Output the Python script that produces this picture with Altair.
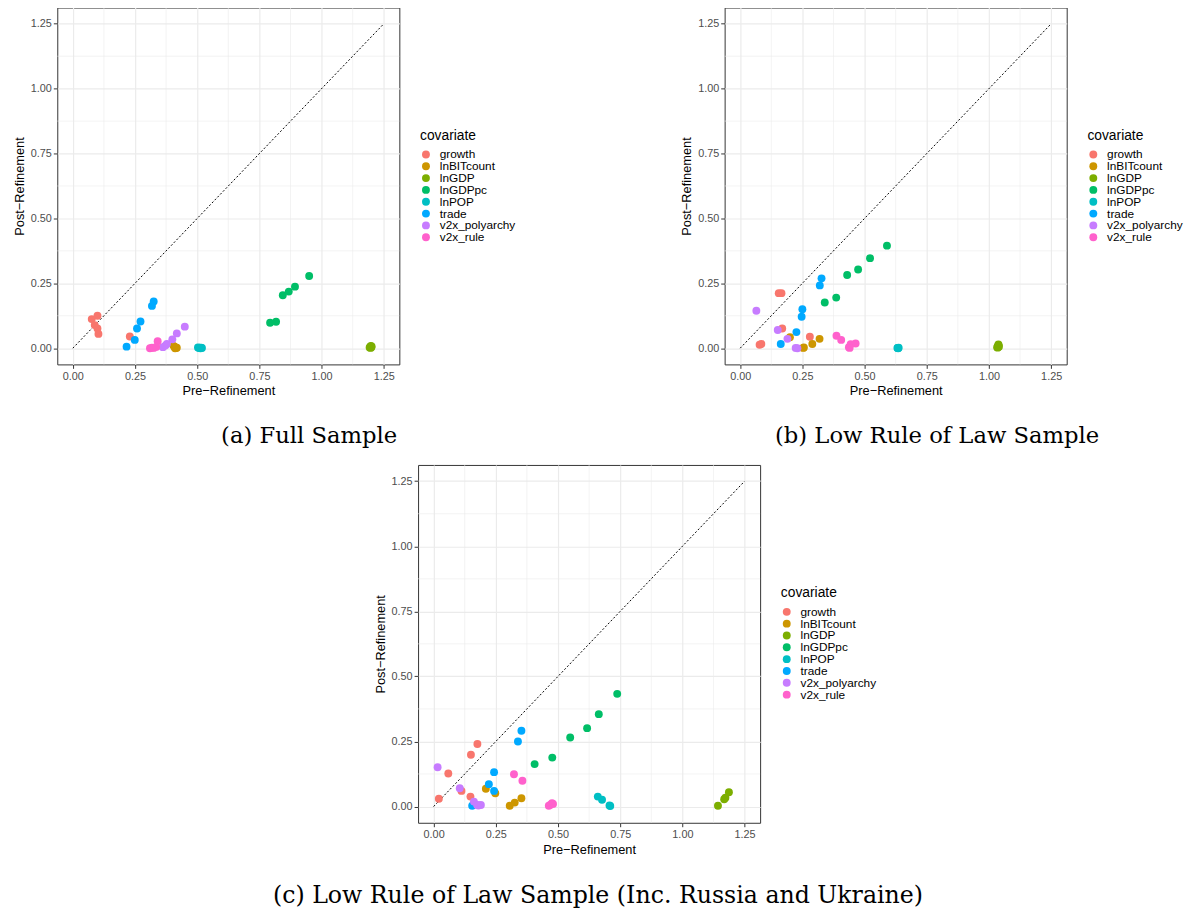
import altair as alt
import pandas as pd

COVARIATES = ["growth", "lnBITcount", "lnGDP", "lnGDPpc", "lnPOP", "trade", "v2x_polyarchy", "v2x_rule"]
COLORS = ["#F8766D", "#CD9600", "#7CAE00", "#00BE67", "#00BFC4", "#00A9FF", "#C77CFF", "#FF61CC"]

MAJOR = [0, 0.25, 0.5, 0.75, 1.0, 1.25]
MINOR = [0.125, 0.375, 0.625, 0.875, 1.125]
DIAG = [0, 1.25]

# ---- (a) Full Sample ----
a_cov = (["growth"] * 6 + ["lnBITcount"] * 6 + ["lnGDP"] * 6 + ["lnGDPpc"] * 6 + ["lnPOP"] * 6
         + ["trade"] * 6 + ["v2x_polyarchy"] * 6 + ["v2x_rule"] * 5)
a_pre = [0.076, 0.099, 0.088, 0.099, 0.103, 0.229,
         0.405, 0.409, 0.412, 0.415, 0.418, 0.411,
         1.193, 1.196, 1.198, 1.200, 1.197, 1.201,
         0.793, 0.817, 0.844, 0.868, 0.893, 0.950,
         0.503, 0.507, 0.510, 0.513, 0.516, 0.519,
         0.216, 0.249, 0.258, 0.272, 0.318, 0.325,
         0.362, 0.372, 0.378, 0.400, 0.418, 0.450,
         0.310, 0.318, 0.325, 0.341, 0.335]
a_post = [0.112, 0.125, 0.089, 0.076, 0.055, 0.045,
          0.009, 0.006, 0.003, 0.001, 0.002, 0.000,
          0.003, 0.006, 0.009, 0.004, 0.001, 0.007,
          0.098, 0.102, 0.204, 0.218, 0.237, 0.278,
          0.003, 0.001, 0.002, 0.000, 0.002, 0.001,
          0.006, 0.032, 0.076, 0.103, 0.163, 0.180,
          0.004, 0.010, 0.016, 0.034, 0.057, 0.083,
          0.000, 0.002, 0.001, 0.027, 0.005]

# ---- (b) Low Rule of Law Sample ----
b_cov = (["growth"] * 6 + ["lnBITcount"] * 5 + ["lnGDP"] * 6 + ["lnGDPpc"] * 6 + ["lnPOP"] * 4
         + ["trade"] * 6 + ["v2x_polyarchy"] * 5 + ["v2x_rule"] * 6)
b_pre = [0.078, 0.085, 0.155, 0.166, 0.169, 0.280,
         0.200, 0.256, 0.290, 0.319, 0.253,
         1.033, 1.036, 1.038, 1.040, 1.035, 1.039,
         0.340, 0.386, 0.430, 0.474, 0.522, 0.590,
         0.632, 0.635, 0.637, 0.634,
         0.163, 0.226, 0.247, 0.250, 0.320, 0.327,
         0.065, 0.151, 0.190, 0.223, 0.230,
         0.387, 0.406, 0.437, 0.444, 0.464, 0.440]
b_post = [0.013, 0.016, 0.212, 0.212, 0.076, 0.044,
          0.042, 0.003, 0.016, 0.036, 0.001,
          0.004, 0.009, 0.014, 0.006, 0.002, 0.011,
          0.176, 0.195, 0.282, 0.303, 0.347, 0.395,
          0.001, 0.000, 0.002, 0.001,
          0.016, 0.062, 0.121, 0.150, 0.242, 0.269,
          0.144, 0.070, 0.036, 0.001, 0.000,
          0.048, 0.032, 0.004, 0.015, 0.018, 0.001]

# ---- (c) Low Rule of Law Sample (Inc. Russia and Ukraine) ----
c_cov = (["growth"] * 6 + ["lnBITcount"] * 5 + ["lnGDP"] * 4 + ["lnGDPpc"] * 6 + ["lnPOP"] * 4
         + ["trade"] * 6 + ["v2x_polyarchy"] * 6 + ["v2x_rule"] * 6)
c_pre = [0.021, 0.059, 0.112, 0.148, 0.150, 0.176,
         0.210, 0.248, 0.306, 0.326, 0.353,
         1.143, 1.168, 1.173, 1.187,
         0.406, 0.477, 0.549, 0.617, 0.664, 0.738,
         0.660, 0.677, 0.707, 0.710,
         0.155, 0.222, 0.243, 0.243, 0.339, 0.353,
         0.016, 0.105, 0.162, 0.175, 0.180, 0.190,
         0.323, 0.357, 0.463, 0.470, 0.476, 0.480]
c_post = [0.030, 0.127, 0.060, 0.038, 0.199, 0.240,
          0.068, 0.051, 0.003, 0.015, 0.032,
          0.003, 0.028, 0.034, 0.055,
          0.163, 0.188, 0.265, 0.301, 0.355, 0.433,
          0.038, 0.026, 0.004, 0.002,
          0.003, 0.086, 0.060, 0.132, 0.250, 0.291,
          0.151, 0.070, 0.019, 0.006, 0.004, 0.006,
          0.124, 0.099, 0.003, 0.007, 0.013, 0.010]

CAPTIONS = ["(a) Full Sample", "(b) Low Rule of Law Sample",
            "(c) Low Rule of Law Sample (Inc. Russia and Ukraine)"]

PW = 347
DOM = [-0.0625, 1.3125]


def panel(cov, pre, post, caption, dx, ph, legend_y, cap_offset, cap_size):
    df = pd.DataFrame({"covariate": cov, "pre": pre, "post": post})
    xs = alt.Scale(domain=DOM, nice=False, zero=False)
    ys = alt.Scale(domain=DOM, nice=False, zero=False)
    xaxis = alt.Axis(values=MAJOR, format=".2f", title="Pre−Refinement")
    yaxis = alt.Axis(values=MAJOR, format=".2f", title="Post−Refinement")
    minor_df = pd.DataFrame({"v": MINOR})
    vgrid = alt.Chart(minor_df).mark_rule(color="#EBEBEB", strokeWidth=0.6).encode(
        x=alt.X("v:Q", scale=xs, axis=xaxis))
    hgrid = alt.Chart(minor_df).mark_rule(color="#EBEBEB", strokeWidth=0.6).encode(
        y=alt.Y("v:Q", scale=ys, axis=yaxis))
    diag = alt.Chart(pd.DataFrame({"x": DIAG, "y": DIAG})).mark_line(
        color="black", strokeDash=[2, 2], strokeWidth=1).encode(
        x=alt.X("x:Q", scale=xs, axis=xaxis), y=alt.Y("y:Q", scale=ys, axis=yaxis))
    pts = alt.Chart(df).mark_circle(size=64, opacity=1).encode(
        x=alt.X("pre:Q", scale=xs, axis=xaxis),
        y=alt.Y("post:Q", scale=ys, axis=yaxis),
        color=alt.Color("covariate:N",
                        scale=alt.Scale(domain=COVARIATES, range=COLORS),
                        legend=alt.Legend(orient="none", legendX=368, legendY=legend_y,
                                          title="covariate", titleFontSize=14,
                                          titleFont="Liberation Sans", titleFontWeight="normal",
                                          titleColor="black", labelFont="Liberation Sans",
                                          labelFontSize=12, labelColor="black",
                                          symbolSize=64, symbolType="circle",
                                          symbolStrokeWidth=0, rowPadding=0,
                                          titlePadding=6, labelOffset=8, padding=0)))
    return alt.layer(vgrid, hgrid, diag, pts).properties(
        width=PW, height=ph,
        title=alt.TitleParams(text=caption, orient="bottom", anchor="middle",
                              font="DejaVu Serif", fontSize=cap_size, fontWeight="normal",
                              color="black", offset=cap_offset, dx=dx))


A = panel(a_cov, a_pre, a_post, CAPTIONS[0], 82, 362, 123, 28, 23)
B = panel(b_cov, b_pre, b_post, CAPTIONS[1], 42, 362, 123, 28, 23)
C = panel(c_cov, c_pre, c_post, CAPTIONS[2], 9, 363, 123, 28, 24)

spacer = alt.Chart(pd.DataFrame({"s": [0]})).mark_point(opacity=0).encode(
    x=alt.X("s:Q", axis=None), y=alt.Y("s:Q", axis=None)).properties(
    width=218, height=10, view=alt.ViewBackground(strokeOpacity=0))

top = alt.hconcat(A, B, spacing=166).resolve_scale(color="independent").resolve_legend(color="independent")
bottom = alt.hconcat(spacer, C, spacing=0).resolve_scale(color="independent").resolve_legend(color="independent")

chart = alt.vconcat(top, bottom, spacing=15).resolve_scale(color="independent").resolve_legend(
    color="independent").properties(
    padding={"left": 5, "top": -8, "right": 0, "bottom": 0}).configure_view(
    stroke="#333333", strokeWidth=1).configure_axis(
    labelFont="Liberation Sans", labelFontSize=11, labelColor="#4D4D4D",
    titleFont="Liberation Sans", titleFontSize=13, titleColor="black", titleFontWeight="normal",
    tickColor="#333333", tickSize=4, tickWidth=1, domain=False,
    grid=True, gridColor="#EBEBEB", gridWidth=1.2, labelPadding=2, titlePadding=4)

chart.save("out.html", embed_options={"renderer": "svg", "actions": False})
